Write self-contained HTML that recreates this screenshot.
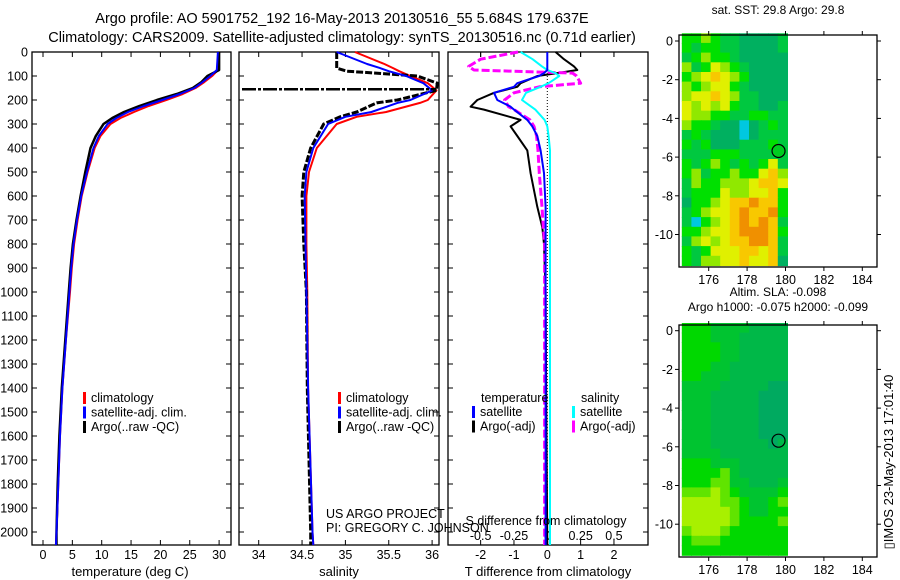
<!DOCTYPE html>
<html><head><meta charset="utf-8">
<style>
html,body{margin:0;padding:0;background:#fff;}
svg{display:block;font-family:"Liberation Sans",sans-serif;}
text{fill:#000;}
</style></head>
<body>
<svg id="fig" width="900" height="580" viewBox="0 0 900 580" xmlns="http://www.w3.org/2000/svg">
<text x="342" y="23" font-size="14.5" text-anchor="middle">Argo profile: AO 5901752_192 16-May-2013 20130516_55 5.684S 179.637E</text>
<text x="342" y="42" font-size="14.5" text-anchor="middle">Climatology: CARS2009. Satellite-adjusted climatology: synTS_20130516.nc (0.71d earlier)</text>
<g id="g1"></g>
<g id="g2"></g>
<g id="g3"></g>
<g id="g4"></g>
<g id="g5"></g>
<text transform="translate(893,462) rotate(-90)" font-size="13" text-anchor="middle">▯IMOS 23-May-2013 17:01:40</text>
</svg>
<script>
// ---- profile data ----
const tDepth = [0,75,100,125,150,175,200,225,250,275,300,350,400,500,600,700,800,900,1000,1200,1400,1600,1800,2000,2054];
const tClim  = [30,29.8,28.8,27.5,26,23.8,21,18,15.5,13.2,11.5,9.8,8.8,7.6,6.6,5.9,5.3,4.9,4.6,3.9,3.3,2.9,2.6,2.3,2.2];
const tSat   = [29.8,29.6,28.5,27.2,25.8,23.3,20.3,17.2,14.5,12.5,11,9.5,8.6,7.5,6.5,5.8,5.2,4.8,4.5,3.9,3.3,2.9,2.6,2.3,2.2];
const tArgo  = [30,30,28,27,25.5,22.8,19.4,16.4,13.8,11.8,10.3,9.0,8.1,7.2,6.4,5.7,5.1,4.7,4.4,3.8,3.2,2.8,2.5,2.3,2.3];

const sDepth = [0,50,67,80,100,130,160,200,212,250,270,300,400,500,600,800,1000,1400,2000,2054];
const sClim  = [35.11,35.45,35.55,35.62,35.75,35.95,36.05,35.95,35.86,35.47,35.13,34.9,34.67,34.58,34.55,34.55,34.56,34.57,34.62,34.63];
const sSat   = [34.9,35.25,35.4,35.5,35.7,35.9,36.0,35.75,35.6,35.3,35.0,34.8,34.63,34.55,34.53,34.54,34.55,34.57,34.62,34.63];
const sArgo  = [34.9,34.9,34.9,35.02,35.83,36.06,36.05,35.6,35.36,35.13,34.94,34.75,34.6,34.52,34.5,34.52,34.55,34.56,34.6,34.6];
const sSpikeDepth = [155];

const dDepth  = [0,30,60,75,88,100,130,145,170,200,228,240,283,310,350,410,505,645,730,800,1000,1500,2054];
const dTArgo  = [0.25,0.5,0.8,0.9,0.3,-0.3,-0.8,-0.9,-1.6,-2.1,-2.3,-1.9,-0.8,-1.1,-0.9,-0.6,-0.5,-0.3,-0.15,-0.1,-0.05,-0.03,0];
const dTSat   = [0,0,0,0,-0.1,-0.25,-0.9,-1.0,-1.6,-1.5,-1.1,-1.0,-0.6,-0.45,-0.3,-0.2,-0.1,-0.05,-0.05,-0.05,-0.05,-0.05,-0.05];
const dSSat   = [-0.2,-0.11,-0.04,0,0.06,0.09,0.01,-0.05,-0.16,-0.19,-0.12,-0.09,-0.02,0,0.01,0.02,0.02,0.02,0.02,0.02,0.02,0.02,0.02];
const dSArgo  = [-0.22,-0.5,-0.59,-0.55,0.19,0.22,0.25,-0.06,-0.25,-0.32,-0.29,-0.25,-0.13,-0.1,-0.08,-0.07,-0.06,-0.04,-0.03,-0.02,-0.02,-0.02,-0.02];

const tTicks = [0,5,10,15,20,25,30];
const sTicks = [34,34.5,35,35.5,36];
const sTickLabels = ['34','34.5','35','35.5','36'];
const dTTicks = [-2,-1,0,1,2];
const dSTicks = [-0.5,-0.25,0,0.25,0.5];
const depthTicks = [0,100,200,300,400,500,600,700,800,900,1000,1100,1200,1300,1400,1500,1600,1700,1800,1900,2000];

// ---- map data (rows top->bottom, 0.5 deg cells, lon 174.6..180.1) ----
const sstRows = [
"44543322223","43443322223","34544322222","53465432222","45676542222","54566432222",
"56676533222","65656433223","65544334433","54432212343","34322212333","43422233343",
"33344433333","43454343463","45344544675","35445556776","34446556674","24456778774",
"34566787784","31456787873","44566788874","35656778873","43466677673","43556676672"];
const slaRows = [
"44433332222","44433322222","44443322222","44443322222","44433222222","44333222222",
"33332222211","33322222111","33322222111","33322222111","33322222111","33322222111",
"33322222212","33332222222","44433322222","44445322222","44455332223","55565433334",
"66665543345","66666543344","66666544445","56665444444","45554444444","44444444444"];
const lonTicks = [176,178,180,182,184];
const latTicks = [0,-2,-4,-6,-8,-10];
const latTickLabels = ['0','-2','-4','-6','-8','-10'];
const argoPos = [179.637,-5.684];

const NS='http://www.w3.org/2000/svg';
function mk(parent,tag,attrs,txt){const e=document.createElementNS(NS,tag);for(const k in attrs)e.setAttribute(k,attrs[k]);if(txt!==undefined)e.textContent=txt;parent.appendChild(e);return e;}
const yD = d => 52 + d*0.24;

function frame(g,x0,x1,y0,y1){
  const r=mk(g,'rect',{x:x0,y:y0,width:x1-x0,height:y1-y0,fill:'none',stroke:'#000','stroke-width':1.3});
  
  
}
function line(g,xs,ys,sx,color,w,dash,name){
  const pts=xs.map((v,i)=>sx(v).toFixed(1)+','+yD(ys[i]).toFixed(1)).join(' ');
  const p=mk(g,'polyline',{points:pts,fill:'none',stroke:color,'stroke-width':w,'stroke-dasharray':dash||'none','stroke-linejoin':'round'});
  
  
}
function xTicks(g,vals,labels,sx,yTop,yBot,labY,name){
  vals.forEach((v,i)=>{
    const x=sx(v);
    mk(g,'line',{x1:x,x2:x,y1:yBot,y2:yBot-5,stroke:'#000','stroke-width':1});
    mk(g,'line',{x1:x,x2:x,y1:yTop,y2:yTop+5,stroke:'#000','stroke-width':1});
    if(labels){const t=mk(g,'text',{x:x,y:labY,'font-size':12.5,'text-anchor':'middle'},labels[i]);
      
      }
  });
}
function yTicks(g,x0,x1,withLabels){
  depthTicks.forEach(d=>{
    const y=yD(d);
    mk(g,'line',{x1:x0,x2:x0+5,y1:y,y2:y,stroke:'#000','stroke-width':1});
    mk(g,'line',{x1:x1,x2:x1-5,y1:y,y2:y,stroke:'#000','stroke-width':1});
    if(withLabels){const t=mk(g,'text',{x:28,y:y+4.5,'font-size':12.5,'text-anchor':'end'},String(d));
      
      }
  });
}
function legend(g,x,y,items,name){
  items.forEach((it,i)=>{
    const yy=y+i*14.5;
    mk(g,'rect',{x:x,y:yy-10,width:3,height:12,fill:it[1]});
    const t=mk(g,'text',{x:x+8,y:yy,'font-size':12.5},it[0]);
    
    
  });
}

// ---- Panel 1: temperature ----
const g1=document.getElementById('g1');
const sxT = v => 43 + v*5.87;
frame(g1,32,231,52,545);
xTicks(g1,tTicks,tTicks.map(String),sxT,52,545,559,'temperature-tick-label');
yTicks(g1,32,231,true);
line(g1,tClim,tDepth,sxT,'#f00',2,null,'temp-climatology-line');
line(g1,tArgo,tDepth,sxT,'#000',2.5,null,'temp-argo-line');
line(g1,tSat,tDepth,sxT,'#00f',2,null,'temp-satellite-line');
legend(g1,83,402,[['climatology','#f00'],['satellite-adj. clim.','#00f'],['Argo(..raw -QC)','#000']],'temp-legend-entry');
mk(g1,'text',{x:130,y:576,'font-size':13,'text-anchor':'middle'},'temperature (deg C)');

// ---- Panel 2: salinity ----
const g2=document.getElementById('g2');
const sxS = v => 258.7 + (v-34)*86.7;
frame(g2,239,439,52,545);
xTicks(g2,sTicks,sTickLabels,sxS,52,545,559,'salinity-tick-label');
yTicks(g2,239,439,false);
line(g2,sClim,sDepth,sxS,'#f00',2,null,'sal-climatology-line');
line(g2,sArgo,sDepth,sxS,'#000',3,'7,2','sal-argo-line');
line(g2,sSat,sDepth,sxS,'#00f',2,null,'sal-satellite-line');
sSpikeDepth.forEach(d=>{
  const l=mk(g2,'line',{x1:242,x2:sxS(36.05),y1:yD(d),y2:yD(d),stroke:'#000','stroke-width':2.5,'stroke-dasharray':'14,2,3,2'});
  
  
});
legend(g2,338,402,[['climatology','#f00'],['satellite-adj. clim.','#00f'],['Argo(..raw -QC)','#000']],'sal-legend-entry');
mk(g2,'text',{x:339,y:576,'font-size':13,'text-anchor':'middle'},'salinity');
mk(g2,'text',{x:326,y:518,'font-size':12.5},'US ARGO PROJECT');
mk(g2,'text',{x:326,y:532,'font-size':12.5},'PI: GREGORY C. JOHNSON');

// ---- Panel 3: differences ----
const g3=document.getElementById('g3');
const sxD = v => 547.3 + v*33.33;
const sxDS = v => 547.3 + v*133.3;
frame(g3,448,648,52,545);
xTicks(g3,dTTicks,dTTicks.map(String),sxD,52,545,559,'tdiff-tick-label');
dSTicks.forEach((v,i)=>{
  const x=sxDS(v);
  mk(g3,'line',{x1:x,x2:x,y1:52,y2:57,stroke:'#000','stroke-width':1});
  const t=mk(g3,'text',{x:x,y:540,'font-size':12.5,'text-anchor':'middle'},String(v));
  
  
});
yTicks(g3,448,648,false);
mk(g3,'line',{x1:sxD(0),x2:sxD(0),y1:52,y2:545,stroke:'#000','stroke-width':1,'stroke-dasharray':'1,2'});
line(g3,dTArgo,dDepth,sxD,'#000',2,null,'tdiff-argo-line');
line(g3,dSArgo,dDepth,sxDS,'#f0f',3,'8,3','sdiff-argo-line');
line(g3,dSSat,dDepth,sxDS,'#0ff',2,null,'sdiff-satellite-line');
line(g3,dTSat,dDepth,sxD,'#00f',2,null,'tdiff-satellite-line');
mk(g3,'text',{x:481,y:402,'font-size':12.5},'temperature');
mk(g3,'text',{x:581,y:402,'font-size':12.5},'salinity');
legend(g3,472,416,[['satellite','#00f'],['Argo(-adj)','#000']],'tdiff-legend-entry');
legend(g3,572,416,[['satellite','#0ff'],['Argo(-adj)','#f0f']],'sdiff-legend-entry');
mk(g3,'text',{x:546,y:525,'font-size':12.5,'text-anchor':'middle'},'S difference from climatology');
mk(g3,'text',{x:548,y:576,'font-size':13,'text-anchor':'middle'},'T difference from climatology');

// ---- Maps ----
const sstColors = {'0':'#0030c0','1':'#00c8e0','2':'#00b060','3':'#00c840','4':'#00e000','5':'#90e800','6':'#e0f000','7':'#f8c800','8':'#f09000'};
const slaColors = {'1':'#00aa60','2':'#00b848','3':'#00c430','4':'#00d800','5':'#60e400','6':'#a8f000'};
function drawMap(g,rows,colors,y0,yLat0,title1,title2,circleFill){
  const sxL = lon => 708.7 + (lon-176)*19.2;
  const syL = lat => yLat0 - lat*19.35;
  rows.forEach((row,r)=>{
    for(let c=0;c<row.length;c++){
      const lon=174.6+c*0.5, lat=0.4-r*0.5;
      const x=sxL(lon), y=syL(lat);
      const cell=mk(g,'rect',{x:x.toFixed(1),y:y.toFixed(1),width:(0.5*19.2+0.6).toFixed(1),height:(0.5*19.35+0.6).toFixed(1),fill:colors[row[c]]});
      
      
    }
  });
  const yTop=y0, yBot=y0+232;
  frame(g,679,877,yTop,yBot);
  lonTicks.forEach(v=>{
    const x=sxL(v);
    mk(g,'line',{x1:x,x2:x,y1:yBot,y2:yBot+4,stroke:'#000'});
    mk(g,'line',{x1:x,x2:x,y1:yTop,y2:yTop-4,stroke:'#000'});
    const t=mk(g,'text',{x:x,y:yBot+17,'font-size':12.5,'text-anchor':'middle'},String(v));
    
    
  });
  latTicks.forEach((v,i)=>{
    const y=syL(v);
    mk(g,'line',{x1:679,x2:675,y1:y,y2:y,stroke:'#000'});
    mk(g,'line',{x1:877,x2:881,y1:y,y2:y,stroke:'#000'});
    const t=mk(g,'text',{x:673,y:y+4.5,'font-size':12.5,'text-anchor':'end'},latTickLabels[i]);
    
    
  });
  const c=mk(g,'circle',{cx:sxL(argoPos[0]),cy:syL(argoPos[1]),r:6.5,fill:circleFill,stroke:'#000','stroke-width':1.2});
  
  
  if(title2){
    mk(g,'text',{x:778,y:y0-29,'font-size':12,'text-anchor':'middle'},title1);
    mk(g,'text',{x:778,y:y0-14,'font-size':12,'text-anchor':'middle'},title2);
  } else {
    mk(g,'text',{x:778,y:y0-21,'font-size':12,'text-anchor':'middle'},title1);
  }
}
drawMap(document.getElementById('g4'),sstRows,sstColors,35,41,'sat. SST: 29.8 Argo: 29.8',null,'#00cc20');
drawMap(document.getElementById('g5'),slaRows,slaColors,325,330.7,'Altim. SLA: -0.098','Argo h1000: -0.075 h2000: -0.099','none');
</script>
</body></html>
